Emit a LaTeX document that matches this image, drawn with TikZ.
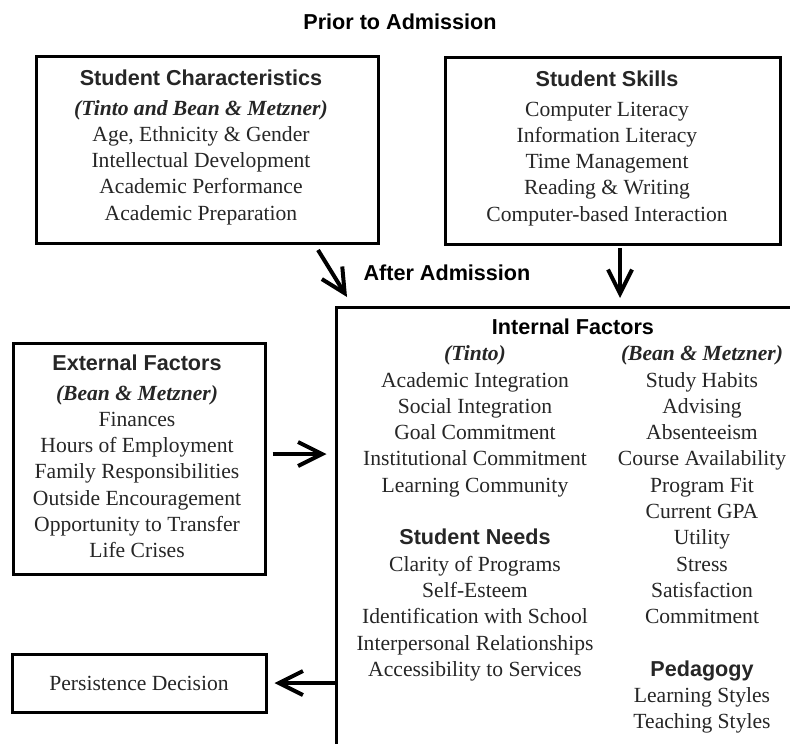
\documentclass[tikz,border=0pt]{standalone}
\usepackage{fontspec}
\setmainfont{Liberation Serif}
\newfontfamily\hdfont{Liberation Sans}
\usetikzlibrary{arrows.meta}
\newcommand{\hd}[1]{{\hdfont\bfseries #1}}
\newcommand{\bi}[1]{{\bfseries\itshape #1}}
\newcommand{\topstrut}{\rule{0pt}{20pt}}
\begin{document}
\begin{tikzpicture}[x=1pt,y=-1pt,
  every node/.style={font=\fontsize{21.6}{26.3}\selectfont, inner sep=0pt, text=black!85},
  box/.style={draw=black, line width=3pt, fill=none},
  txt/.style={align=center, anchor=north},
  arr/.style={line width=4pt, -{Straight Barb[length=24pt,width=24pt]}}]
\useasboundingbox (0,0) rectangle (790,744);
\clip (0,0) rectangle (790,744);
\fill[white] (0,0) rectangle (790,744);

\node[anchor=base, text=black] (prior) at (400,29.8) {\hd{Prior to Admission}};

% Student Characteristics
\node[box, minimum width=341.5pt, minimum height=187pt] (sc) at (207.25,149.5) {};
\node[txt] (sct) at (201,65.5) {\topstrut\hd{Student Characteristics}\\[3pt]
  \bi{(Tinto and Bean \& Metzner)}\\
  Age, Ethnicity \& Gender\\
  Intellectual Development\\
  Academic Performance\\
  Academic Preparation};

% Student Skills
\node[box, minimum width=335pt, minimum height=187pt] (ss) at (612.5,150.5) {};
\node[txt] (sst) at (607,66.5) {\topstrut\hd{Student Skills}\\[3pt]
  Computer Literacy\\
  Information Literacy\\
  Time Management\\
  Reading \& Writing\\
  Computer-based Interaction};

\node[anchor=base, text=black] (after) at (447,280.8) {\hd{After Admission}};

% Internal box
\node[box, minimum width=464pt, minimum height=453pt] (int) at (568,533.5) {};
\node[anchor=base, text=black] (intt) at (573,334.5) {\hd{Internal Factors}};
\node[txt] (tinto) at (475,340.5) {\topstrut\bi{(Tinto)}\\
  Academic Integration\\
  Social Integration\\
  Goal Commitment\\
  Institutional Commitment\\
  Learning Community\\
  \mbox{}\\
  \hd{Student Needs}\\
  Clarity of Programs\\
  Self-Esteem\\
  Identification with School\\
  Interpersonal Relationships\\
  Accessibility to Services};
\node[txt] (bm) at (702,340.5) {\topstrut\bi{(Bean \& Metzner)}\\
  Study Habits\\
  Advising\\
  Absenteeism\\
  Course Availability\\
  Program Fit\\
  Current GPA\\
  Utility\\
  Stress\\
  Satisfaction\\
  Commitment\\
  \mbox{}\\
  \hd{Pedagogy}\\
  Learning Styles\\
  Teaching Styles};

% External Factors
\node[box, minimum width=252pt, minimum height=231pt] (ext) at (139,458.5) {};
\node[txt] (extt) at (137,350.5) {\topstrut\hd{External Factors}\\[3pt]
  \bi{(Bean \& Metzner)}\\
  Finances\\
  Hours of Employment\\
  Family Responsibilities\\
  Outside Encouragement\\
  Opportunity to Transfer\\
  Life Crises};

% Persistence
\node[box, minimum width=254pt, minimum height=58pt] (pers) at (139,683) {Persistence Decision};

% Arrows
\coordinate (a1s) at (318,250);
\coordinate (a1e) at (347,297);
\coordinate (a2s) at (620,248);
\coordinate (a2e) at (620,298);
\draw[arr] (a1s) -- (a1e);
\draw[arr] (a2s) -- (a2e);
\draw[arr] ([xshift=6pt,yshift=4.5pt]ext.east) -- ([xshift=-8pt,yshift=4.5pt]ext.east -| int.west);
\draw[arr] (pers.east -| int.west) -- ([xshift=7pt]pers.east);
\end{tikzpicture}
\end{document}
